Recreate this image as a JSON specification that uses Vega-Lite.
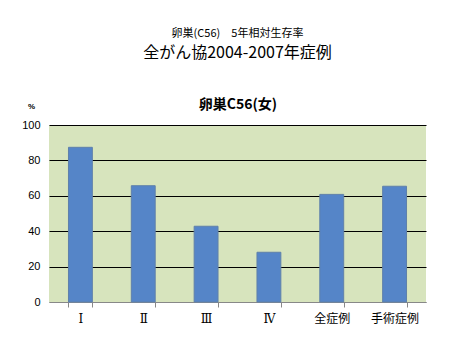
{
  "$schema": "https://vega.github.io/schema/vega-lite/v6.json",
  "width": 377,
  "height": 177,
  "autosize": "none",
  "padding": {"left": 49, "top": 125, "right": 50, "bottom": 60},
  "background": "white",
  "title": {
    "text": "卵巣(C56)　5年相対生存率",
    "subtitle": "全がん協2004-2007年症例",
    "font": "Noto Sans CJK JP",
    "fontSize": 11,
    "fontWeight": "normal",
    "color": "black",
    "subtitleFont": "Noto Sans CJK JP",
    "subtitleFontSize": 16,
    "subtitleColor": "black",
    "subtitlePadding": 6,
    "anchor": "middle",
    "frame": "group",
    "offset": 36
  },
  "data": {
    "values": [
      {"cat": "Ⅰ", "value": 87.4},
      {"cat": "Ⅱ", "value": 65.7},
      {"cat": "Ⅲ", "value": 42.8},
      {"cat": "Ⅳ", "value": 28.1},
      {"cat": "全症例", "value": 60.8},
      {"cat": "手術症例", "value": 65.4}
    ]
  },
  "mark": {"type": "bar", "fill": "#5585C8", "stroke": "#5f80aa", "strokeWidth": 1},
  "encoding": {
    "x": {
      "field": "cat",
      "type": "nominal",
      "sort": null,
      "scale": {"paddingInner": 0.62, "paddingOuter": 0.31},
      "axis": {
        "labelAngle": 0,
        "labelFont": {"condition": {"test": "length(datum.label) === 1", "value": "DejaVu Serif"}, "value": "Noto Sans CJK JP"},
        "labelFontSize": 12,
        "labelColor": "black",
        "labelPadding": 6,
        "domainColor": "#888888",
        "tickColor": "#888888",
        "tickSize": 5,
        "tickBand": "extent",
        "title": "卵巣C56(女)",
        "titleFont": "Noto Sans CJK JP",
        "titleFontSize": 14,
        "titleFontWeight": "bold",
        "titleColor": "black",
        "titleY": -198,
        "titleBaseline": "middle"
      }
    },
    "y": {
      "field": "value",
      "type": "quantitative",
      "scale": {"domain": [0, 100]},
      "axis": {
        "values": [0, 20, 40, 60, 80, 100],
        "domain": false,
        "ticks": false,
        "tickSize": 0,
        "labelPadding": 9,
        "labelFont": "Liberation Sans",
        "labelFontSize": 11,
        "labelColor": "black",
        "grid": true,
        "gridColor": {"condition": {"test": "datum.value === 0", "value": "#888888"}, "value": "black"},
        "gridOpacity": 1,
        "gridWidth": 1,
        "title": "%",
        "titleAngle": 0,
        "titleX": -18,
        "titleY": -19,
        "titleAlign": "center",
        "titleBaseline": "middle",
        "titleFont": "Liberation Sans",
        "titleFontSize": 8,
        "titleFontWeight": "bold",
        "titleColor": "black"
      }
    }
  },
  "config": {
    "view": {"fill": "#D7E4BD", "stroke": null}
  }
}
